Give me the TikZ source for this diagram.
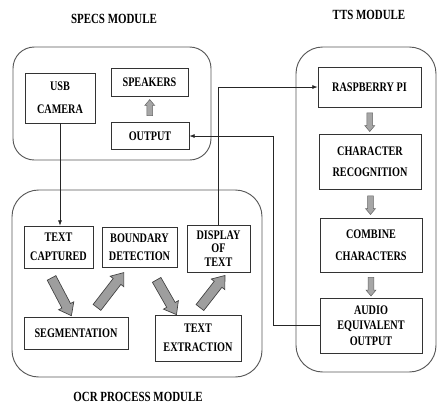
\documentclass[tikz,border=0pt]{standalone}
\usepackage{fontspec}
\setmainfont{Liberation Serif}[FakeStretch=0.78, BoldFeatures={FakeStretch=0.78}]
\usetikzlibrary{shapes.arrows,arrows.meta,calc}
\begin{document}
\begin{tikzpicture}[x=0.75pt,y=-0.75pt,
  box/.style={draw=black!80, line width=0.6pt, align=center, inner sep=0pt,
    font=\fontsize{9.8}{#1}\selectfont\bfseries},
  box/.default=12pt,
  frame/.style={draw=black!65, line width=0.7pt, rounded corners=#1},
  title/.style={font=\fontsize{10.5}{12}\selectfont\bfseries},
  link/.style={draw=black!85, line width=0.5pt, -{Latex[length=4pt,width=3pt]}},
  fatarr/.style={single arrow, draw=black!75, fill=black!38, line width=0.5pt,
    inner xsep=0pt, inner ysep=3.4pt, single arrow head extend=2.8pt,
    single arrow tip angle=75, sloped},
  tinyarr/.style={single arrow, draw=black!60, fill=black!35, line width=0.4pt,
    inner xsep=0pt, inner ysep=1.9pt, single arrow head extend=1.6pt,
    single arrow tip angle=80},
]
\useasboundingbox (0,0) rectangle (437,405);
\fill[white] (0,0) rectangle (437,405);

% module frames
\draw[frame=16pt] (13,47) rectangle (211,160);
\draw[frame=20pt] (12,190) rectangle (262,377);
\draw[frame=20pt] (296,47) rectangle (436,372);

% module titles
\node[title] (tspecs) at (114,19) {SPECS MODULE};
\node[title] (ttts) at (369,15) {TTS MODULE};
\node[title] (tocr) at (138,397) {OCR PROCESS MODULE};

% specs module
\node[box=17.25pt, minimum width=52.5pt, minimum height=37.5pt] (cam) at (60,98) {USB\\CAMERA};
\node[box, minimum width=57.75pt, minimum height=21pt] (spk) at (149.5,82) {SPEAKERS};
\node[box, minimum width=58.5pt, minimum height=20.25pt] (out) at (150,136) {OUTPUT};

% tts module
\node[box, minimum width=77.25pt, minimum height=30pt] (rpi) at (369.5,87) {RASPBERRY PI};
\node[box=15.75pt, minimum width=76.5pt, minimum height=41.25pt] (chr) at (370,161.5) {CHARACTER\\RECOGNITION};
\node[box=16.5pt, minimum width=76.5pt, minimum height=40.5pt] (cmb) at (371,245) {COMBINE\\CHARACTERS};
\node[box=11.6pt, minimum width=76.5pt, minimum height=41.25pt] (aud) at (371,325.5) {AUDIO\\EQUIVALENT\\OUTPUT};

% ocr process module
\node[box=14.25pt, minimum width=51.75pt, minimum height=31.5pt] (cap) at (58.5,247) {TEXT\\CAPTURED};
\node[box=13.5pt, minimum width=56.25pt, minimum height=30pt] (bnd) at (139.5,247) {BOUNDARY\\DETECTION};
\node[box=10pt, minimum width=47.25pt, minimum height=35.25pt] (dsp) at (218.5,248.5) {DISPLAY\\OF\\TEXT};
\node[box, minimum width=78pt, minimum height=24pt] (seg) at (76,333) {SEGMENTATION};
\node[box=14.25pt, minimum width=64.5pt, minimum height=34.5pt] (ext) at (198,338) {TEXT\\EXTRACTION};

% small flow arrows
\node[tinyarr, minimum height=12pt, rotate=90] (up1) at ($(spk.south)!0.5!(out.north)$) {};
\node[tinyarr, minimum height=14pt, rotate=-90] (dn1) at ($(rpi.south)!0.5!(chr.north)$) {};
\node[tinyarr, minimum height=14pt, rotate=-90] (dn2) at ($(chr.south)!0.5!(cmb.north)$) {};
\node[tinyarr, minimum height=14pt, rotate=-90] (dn3) at ($(cmb.south)!0.5!(aud.north)$) {};

% broad arrows of the ocr steps
\path (50,275) -- (70,313) node[fatarr, midway, minimum height=32pt] (f1) {};
\path (95,310) -- (122,275) node[fatarr, midway, minimum height=33pt] (f2) {};
\path (155,277) -- (175,312) node[fatarr, midway, minimum height=30pt] (f3) {};
\path (198,310) -- (223,278) node[fatarr, midway, minimum height=30.5pt] (f4) {};

% connectors
\draw[link] (cam.south) -- (cam.south |- cap.north);
\draw[link] (dsp.north) |- (rpi.west);
\draw[link] (aud.west) -- ++(-46,0) |- (out.east);
\end{tikzpicture}
\end{document}
